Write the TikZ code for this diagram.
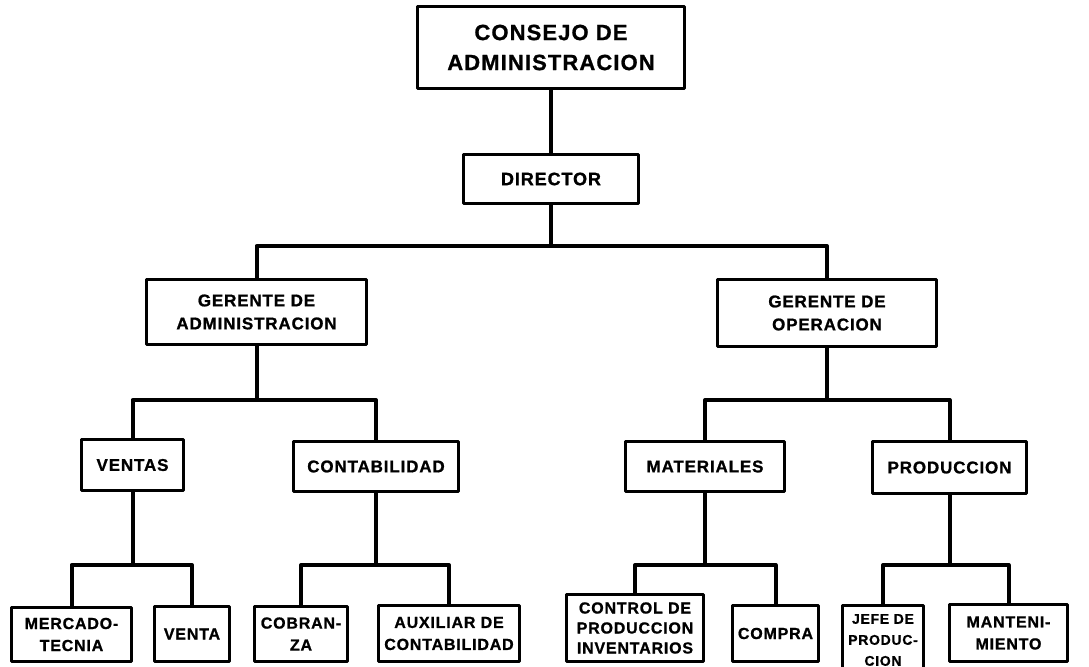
\documentclass[tikz,border=0pt]{standalone}
\usepackage{fontspec}
\newfontfamily\orgfont[LetterSpace=5, FakeBold=1]{Liberation Sans}
\begin{document}
\begin{tikzpicture}[x=1bp, y=-1bp, line join=round, line cap=round,
	caja/.style={draw, line width=3bp, inner sep=0pt, align=center},
	linea/.style={line width=4bp},
	fa/.style={font=\orgfont\bfseries\fontsize{22bp}{30bp}\selectfont},
	fb/.style={font=\orgfont\bfseries\fontsize{17bp}{23bp}\selectfont},
	fc/.style={font=\orgfont\bfseries\fontsize{16bp}{22bp}\selectfont}]
	\useasboundingbox (0,0) rectangle (1089,667);
	\path 
	(0,246) coordinate (b1)
	(0,400) coordinate (b2)
	(0,565) coordinate (b3)
	;
	\node[caja, fa, minimum width=267bp, minimum height=82bp] (consejo) at (551,47.5) {CONSEJO DE\\ADMINISTRACION};
	\node[caja, fb, font=\orgfont\bfseries\fontsize{18bp}{23bp}\selectfont, minimum width=175bp, minimum height=49bp] (director) at (551,179) {DIRECTOR};
	\node[caja, fb, minimum width=220bp, minimum height=65bp] (gadmin) at (256.5,312) {GERENTE DE\\ADMINISTRACION};
	\node[caja, fb, minimum width=219bp, minimum height=67bp] (goper) at (827,313) {GERENTE DE\\OPERACION};
	\node[caja, fb, minimum width=102bp, minimum height=51bp] (ventas) at (132.5,465) {VENTAS};
	\node[caja, fb, minimum width=165bp, minimum height=50bp] (contab) at (376,466.5) {CONTABILIDAD};
	\node[caja, fb, minimum width=159bp, minimum height=50bp] (mater) at (705,466.5) {MATERIALES};
	\node[caja, fb, minimum width=154bp, minimum height=52bp] (produc) at (949.5,467.5) {PRODUCCION};
	\node[caja, fc, minimum width=120bp, minimum height=54bp] (merca) at (71.5,634.5) {MERCADO-\\TECNIA};
	\node[caja, fc, minimum width=75bp, minimum height=55bp] (venta) at (192,634) {VENTA};
	\node[caja, fc, minimum width=93bp, minimum height=55bp] (cobra) at (301,634) {COBRAN-\\ZA};
	\node[caja, fc, minimum width=141bp, minimum height=56bp] (auxil) at (449,633.5) {AUXILIAR DE\\CONTABILIDAD};
	\node[caja, fc, font=\orgfont\bfseries\fontsize{16bp}{20bp}\selectfont, minimum width=137bp, minimum height=67bp] (control) at (635,628) {CONTROL DE\\PRODUCCION\\INVENTARIOS};
	\node[caja, fc, minimum width=86bp, minimum height=56bp] (compra) at (775.5,633.5) {COMPRA};
	\node[caja, fc, font=\orgfont\bfseries\fontsize{14bp}{21bp}\selectfont, minimum width=81bp, minimum height=69bp] (jefe) at (883,640) {JEFE DE\\PRODUC-\\CION};
	\node[caja, fc, minimum width=118bp, minimum height=57bp] (mante) at (1008.5,633) {MANTENI-\\MIENTO};
	\draw[linea] (consejo.south) -- (director.north);
	\foreach \p/\c/\b in {director/gadmin/b1, director/goper/b1,
		gadmin/ventas/b2, gadmin/contab/b2, goper/mater/b2, goper/produc/b2,
		ventas/merca/b3, ventas/venta/b3, contab/cobra/b3, contab/auxil/b3,
		mater/control/b3, mater/compra/b3, produc/jefe/b3, produc/mante/b3}
		\draw[linea] (\p.south) -- (\p.south |- \b) -| (\c.north);
\end{tikzpicture}
\end{document}
